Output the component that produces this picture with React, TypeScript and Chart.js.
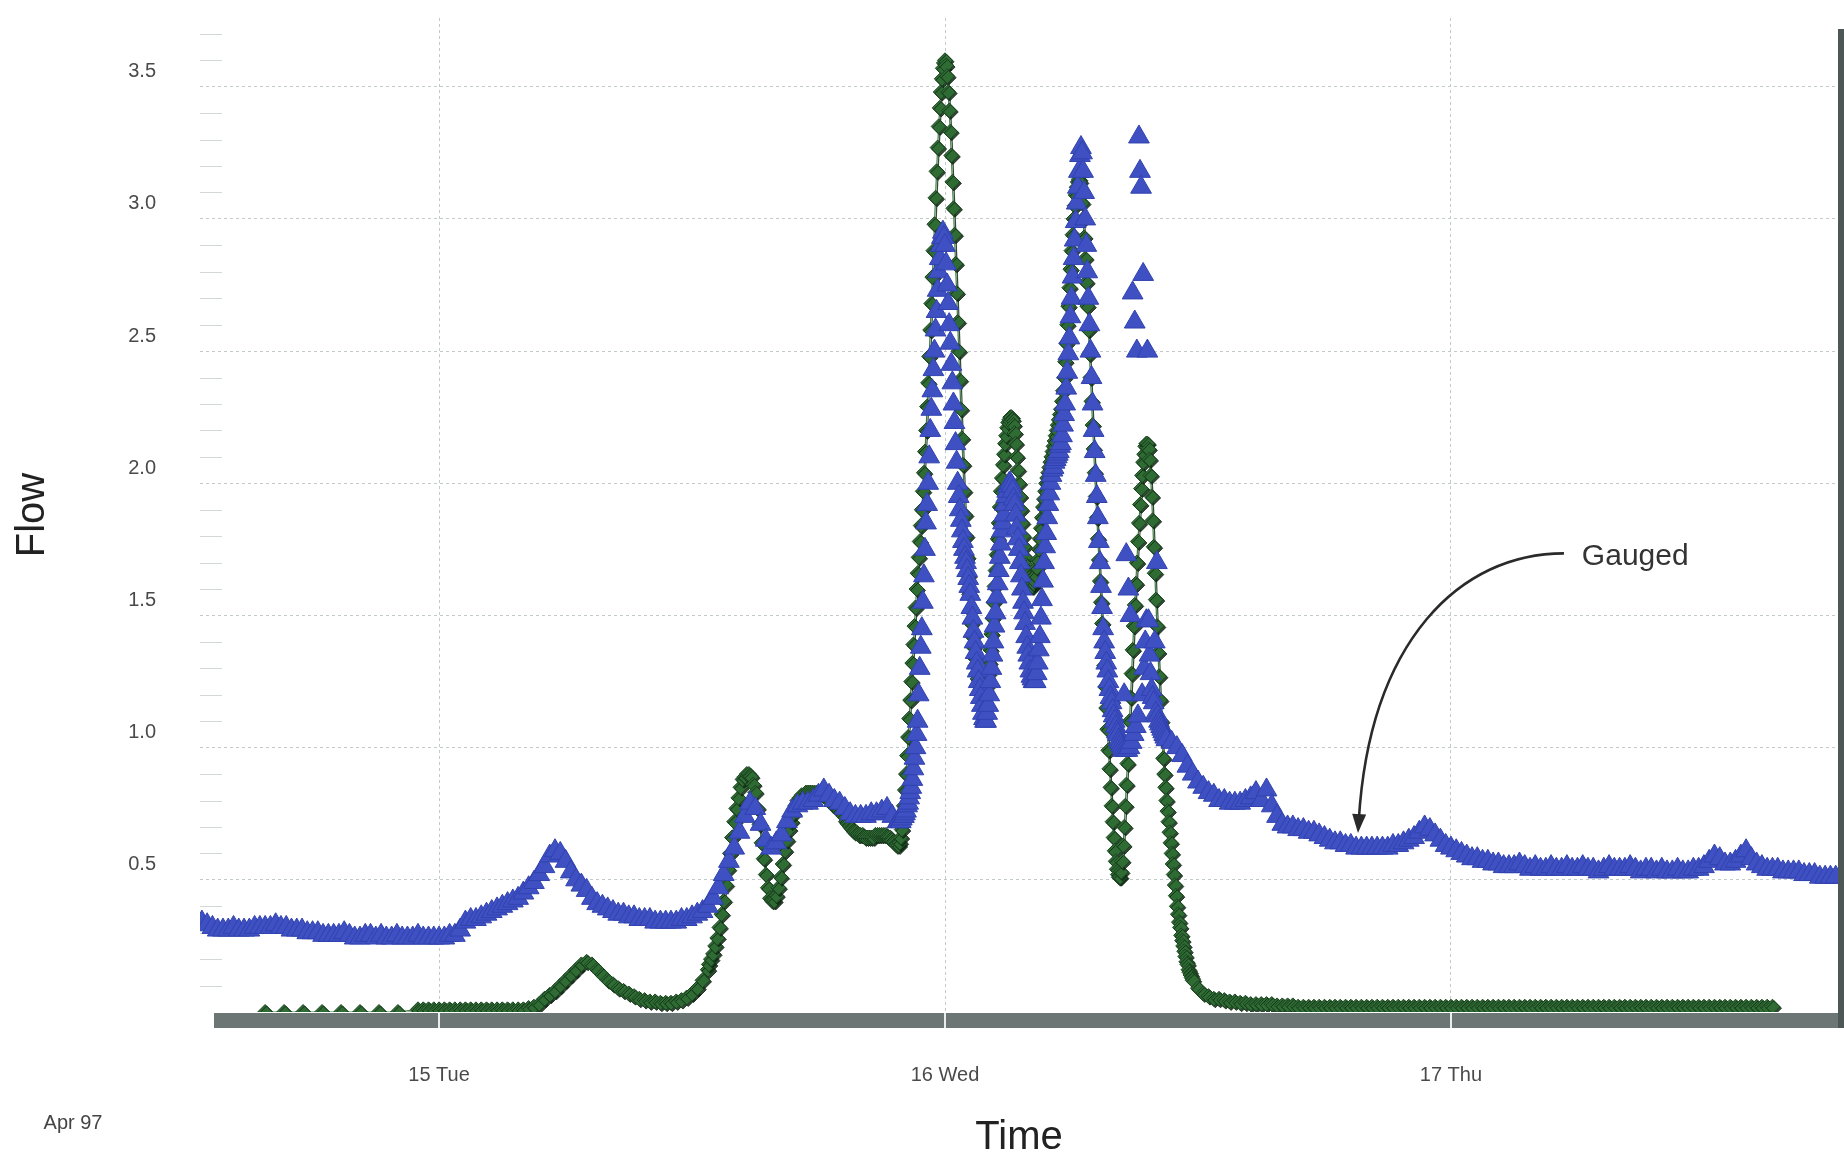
import React, { useEffect, useRef } from 'react';
import { Chart, registerables } from 'chart.js';

Chart.register(...registerables);

const FONT = "'Liberation Sans', Arial, Helvetica, sans-serif";

// ---- axes (x = hours after 00:00, 14 April 1997) ----
const X_MIN_HOURS = 12.66;
const X_MAX_HOURS = 90.36;
const dayTickHours = [24, 48, 72];
const dayTickLabels = ['15 Tue', '16 Wed', '17 Thu'];
const monthLabel = 'Apr 97';
const xTitle = 'Time';
const yTitle = 'Flow';

const Y_MIN = 0;
const Y_MAX = 3.76;
const yMajorTicks = [0.5, 1.0, 1.5, 2.0, 2.5, 3.0, 3.5];
const yMinorTicks = [0.1, 0.2, 0.3, 0.4, 0.6, 0.7, 0.8, 0.9, 1.1, 1.2, 1.3, 1.4, 1.6, 1.7, 1.8, 1.9,
  2.1, 2.2, 2.3, 2.4, 2.6, 2.7, 2.8, 2.9, 3.1, 3.2, 3.3, 3.4, 3.6, 3.7];

// ---- Gauged flow (blue triangles) ----
const GAUGED_A_START = 12.75; // 15-minute readings
const GAUGED_A_STEP = 0.25;
const gaugedA = [
  0.34, 0.33, 0.32, 0.31, 0.31, 0.31, 0.32, 0.31, 0.31, 0.31,
  0.32, 0.32, 0.32, 0.32, 0.33, 0.32, 0.32, 0.31, 0.31, 0.31,
  0.30, 0.30, 0.30, 0.29, 0.29, 0.29, 0.29, 0.30, 0.29, 0.28,
  0.28, 0.29, 0.29, 0.28, 0.29, 0.28, 0.28, 0.29, 0.28, 0.28,
  0.28, 0.29, 0.28, 0.28, 0.28, 0.28, 0.28, 0.29, 0.29, 0.31,
  0.34, 0.35, 0.35, 0.36, 0.37, 0.38, 0.39, 0.40, 0.41, 0.42,
  0.43, 0.45, 0.47, 0.49, 0.52, 0.55, 0.59, 0.61, 0.60, 0.57,
  0.53, 0.50, 0.48, 0.46, 0.43, 0.41, 0.40, 0.39, 0.38, 0.37,
  0.37, 0.36, 0.36, 0.35, 0.35, 0.35, 0.34, 0.34, 0.34, 0.34,
  0.34, 0.35, 0.35, 0.36, 0.37, 0.38, 0.40, 0.43, 0.47, 0.52,
  0.57, 0.62, 0.68, 0.74, 0.79, 0.77, 0.71, 0.65, 0.62, 0.64,
  0.67, 0.72, 0.76, 0.78, 0.79, 0.79, 0.80, 0.82, 0.84, 0.82,
  0.80, 0.79, 0.77, 0.75, 0.74, 0.74, 0.74, 0.75, 0.75, 0.76,
  0.77, 0.74, 0.72,
];

const GAUGED_B_START = 45.8; // 3-minute readings through the storm
const GAUGED_B_STEP = 0.05;
const gaugedB = [
  0.72, 0.73, 0.72, 0.73, 0.74, 0.74, 0.75, 0.76, 0.78, 0.79, 0.81, 0.83, 0.85, 0.88, 0.92, 0.96, 1.00, 1.05, 1.10, 1.20,
  1.30, 1.38, 1.45, 1.55, 1.65, 1.75, 1.85, 1.92, 2.00, 2.10, 2.20, 2.28, 2.35, 2.43, 2.50, 2.58, 2.65, 2.73, 2.80, 2.85,
  2.90, 2.93, 2.95, 2.93, 2.90, 2.83, 2.75, 2.68, 2.60, 2.53, 2.45, 2.38, 2.30, 2.23, 2.15, 2.08, 2.00, 1.95, 1.90, 1.86,
  1.82, 1.78, 1.75, 1.72, 1.70, 1.67, 1.64, 1.61, 1.58, 1.53, 1.49, 1.44, 1.40, 1.36, 1.32, 1.29, 1.25, 1.22, 1.19, 1.16,
  1.13, 1.11, 1.10, 1.10, 1.13, 1.16, 1.20, 1.25, 1.30, 1.35, 1.40, 1.46, 1.51, 1.57, 1.62, 1.67, 1.72, 1.77, 1.82, 1.85,
  1.88, 1.92, 1.95, 1.97, 1.99, 2.00, 2.00, 1.99, 1.97, 1.94, 1.92, 1.88, 1.83, 1.79, 1.75, 1.70, 1.65, 1.60, 1.55, 1.51,
  1.47, 1.42, 1.38, 1.35, 1.32, 1.29, 1.27, 1.26, 1.25, 1.25, 1.25, 1.28, 1.32, 1.37, 1.42, 1.49, 1.56, 1.63, 1.70, 1.76,
  1.81, 1.87, 1.92, 1.96, 2.00, 2.03, 2.05, 2.06, 2.08, 2.09, 2.10, 2.11, 2.12, 2.14, 2.15, 2.18, 2.22, 2.26, 2.30, 2.36,
  2.42, 2.49, 2.55, 2.63, 2.70, 2.78, 2.85, 2.92, 2.99, 3.06, 3.12, 3.18, 3.24, 3.27, 3.25, 3.18, 3.10, 3.00, 2.90, 2.80,
  2.70, 2.60, 2.50, 2.40, 2.30, 2.20, 2.12, 2.03, 1.95, 1.87, 1.78, 1.70, 1.61, 1.53, 1.45, 1.40, 1.36, 1.32, 1.29, 1.25,
  1.22, 1.19, 1.17, 1.14, 1.12, 1.10, 1.08, 1.06, 1.05, 1.03, 1.02, 1.01, 1.00, 0.99, 1.20, 0.99, 1.73, 0.99, 1.60, 1.00,
  1.50, 1.02, 2.72, 1.05, 2.61, 1.08, 2.50, 1.12, 3.31, 3.18, 3.12, 1.20, 2.79, 1.30, 1.40, 1.48, 2.50, 1.48, 1.35, 1.28,
  1.22, 1.19, 1.17, 1.40, 1.13, 1.70, 1.12, 1.10, 1.09, 1.08, 1.07, 1.06, 1.05, 1.04, 1.03,
];

const GAUGED_C_START = 58.75; // 15-minute readings
const GAUGED_C_STEP = 0.25;
const gaugedC = [
  1.02, 1.00, 0.97, 0.93, 0.90, 0.87, 0.85, 0.83, 0.82, 0.80,
  0.80, 0.79, 0.79, 0.79, 0.80, 0.81, 0.83, 0.80, 0.84, 0.78,
  0.74, 0.71, 0.70, 0.70, 0.69, 0.69, 0.68, 0.68, 0.67, 0.66,
  0.65, 0.64, 0.64, 0.63, 0.63, 0.62, 0.62, 0.62, 0.62, 0.62,
  0.62, 0.62, 0.63, 0.63, 0.64, 0.65, 0.66, 0.68, 0.70, 0.69,
  0.67, 0.65, 0.63, 0.62, 0.61, 0.60, 0.59, 0.58, 0.58, 0.57,
  0.57, 0.56, 0.56, 0.55, 0.55, 0.55, 0.56, 0.55, 0.54, 0.55,
  0.54, 0.54, 0.55, 0.54, 0.54, 0.55, 0.54, 0.54, 0.55, 0.54,
  0.54, 0.53, 0.54, 0.55, 0.54, 0.54, 0.54, 0.55, 0.54, 0.53,
  0.54, 0.54, 0.53, 0.54, 0.53, 0.53, 0.54, 0.53, 0.53, 0.54,
  0.54, 0.55, 0.57, 0.59, 0.58, 0.56, 0.56, 0.57, 0.59, 0.61,
  0.58, 0.56, 0.55, 0.54, 0.54, 0.54, 0.53, 0.53, 0.53, 0.53,
  0.52, 0.52, 0.52, 0.51, 0.51, 0.51, 0.51,
];

// ---- Modelled flow (green diamonds joined by a line) ----
const modelSparseHours = [15.75, 16.65, 17.55, 18.45, 19.35, 20.25, 21.15, 22.05];
const modelSparse = [0, 0, 0, 0, 0, 0, 0, 0];

const MODEL_A_START = 23.0; // 15-minute
const MODEL_A_STEP = 0.25;
const modelA = [
  0.01, 0.01, 0.01, 0.01, 0.01, 0.01, 0.01, 0.01, 0.01, 0.01,
  0.01, 0.01, 0.01, 0.01, 0.01, 0.01, 0.01, 0.01, 0.01, 0.01,
  0.01, 0.015, 0.02, 0.03, 0.05, 0.065, 0.08, 0.10, 0.12, 0.14,
  0.16, 0.18, 0.19, 0.18, 0.16, 0.14, 0.12, 0.105, 0.09, 0.08,
  0.07, 0.06, 0.05, 0.045, 0.04, 0.04, 0.035, 0.035, 0.035, 0.04,
  0.045, 0.055, 0.07, 0.09, 0.12, 0.16,
];

const MODEL_B_START = 36.8; // 6-minute
const MODEL_B_STEP = 0.1;
const modelB = [
  0.18, 0.20, 0.22, 0.25, 0.28, 0.32, 0.37, 0.42, 0.48, 0.54,
  0.60, 0.66, 0.72, 0.77, 0.81, 0.85, 0.88, 0.89, 0.90, 0.90,
  0.89, 0.86, 0.83, 0.77, 0.71, 0.64, 0.58, 0.52, 0.47, 0.43,
  0.42, 0.42, 0.44, 0.47, 0.51, 0.56, 0.61, 0.65, 0.69, 0.72,
  0.75, 0.78, 0.80, 0.81, 0.82, 0.82, 0.83, 0.83, 0.83, 0.83,
  0.83, 0.83, 0.83, 0.83, 0.82, 0.82, 0.81, 0.80, 0.79, 0.78,
  0.78, 0.77, 0.76, 0.75, 0.74, 0.72, 0.71, 0.70, 0.69, 0.68,
  0.68, 0.67, 0.67, 0.67, 0.66, 0.66, 0.66, 0.66, 0.66, 0.67,
  0.67, 0.67, 0.67, 0.67, 0.67, 0.66, 0.66, 0.65, 0.64, 0.63,
];

const MODEL_C_START = 45.8; // 3-minute through the storm
const MODEL_C_STEP = 0.05;
const modelC = [
  0.63, 0.64, 0.66, 0.69, 0.73, 0.78, 0.84, 0.90, 0.97, 1.04, 1.11, 1.18, 1.25, 1.32, 1.39, 1.46, 1.53, 1.60, 1.66, 1.72,
  1.78, 1.84, 1.90, 1.97, 2.04, 2.12, 2.20, 2.29, 2.38, 2.48, 2.58, 2.68, 2.78, 2.88, 2.98, 3.08, 3.18, 3.27, 3.35, 3.42,
  3.48, 3.53, 3.57, 3.59, 3.60, 3.58, 3.54, 3.48, 3.41, 3.33, 3.24, 3.14, 3.04, 2.94, 2.83, 2.72, 2.61, 2.50, 2.39, 2.28,
  2.17, 2.07, 1.97, 1.88, 1.80, 1.72, 1.65, 1.58, 1.52, 1.47, 1.42, 1.38, 1.34, 1.31, 1.28, 1.26, 1.24, 1.23, 1.22, 1.22,
  1.22, 1.22, 1.22, 1.23, 1.25, 1.28, 1.32, 1.37, 1.43, 1.49, 1.55, 1.61, 1.67, 1.73, 1.79, 1.85, 1.91, 1.97, 2.02, 2.07,
  2.11, 2.15, 2.18, 2.21, 2.23, 2.24, 2.25, 2.25, 2.24, 2.22, 2.19, 2.15, 2.10, 2.05, 2.00, 1.95, 1.90, 1.85, 1.80, 1.76,
  1.72, 1.69, 1.67, 1.65, 1.64, 1.62, 1.61, 1.61, 1.62, 1.63, 1.65, 1.68, 1.71, 1.75, 1.79, 1.83, 1.87, 1.91, 1.94, 1.97,
  2.00, 2.02, 2.04, 2.06, 2.08, 2.10, 2.12, 2.14, 2.16, 2.18, 2.20, 2.22, 2.24, 2.26, 2.28, 2.31, 2.35, 2.40, 2.46, 2.53,
  2.60, 2.67, 2.74, 2.81, 2.88, 2.94, 3.00, 3.05, 3.09, 3.12, 3.14, 3.15, 3.14, 3.11, 3.06, 3.00, 2.93, 2.85, 2.76, 2.67,
  2.58, 2.49, 2.40, 2.31, 2.22, 2.13, 2.04, 1.95, 1.87, 1.79, 1.71, 1.63, 1.55, 1.47, 1.39, 1.31, 1.23, 1.15, 1.07, 0.99,
  0.92, 0.85, 0.78, 0.72, 0.66, 0.61, 0.57, 0.54, 0.52, 0.51, 0.51, 0.53, 0.57, 0.63, 0.70, 0.78, 0.86, 0.94, 1.02, 1.10,
  1.19, 1.28, 1.37, 1.46, 1.54, 1.62, 1.70, 1.78, 1.85, 1.92, 1.98, 2.03, 2.08, 2.11, 2.14, 2.15, 2.15, 2.13, 2.09, 2.03,
  1.95, 1.86, 1.76, 1.66, 1.56, 1.46, 1.36, 1.27, 1.18, 1.10, 1.03, 0.96, 0.90, 0.85, 0.80, 0.76, 0.72, 0.68, 0.64, 0.60,
  0.56, 0.52, 0.48, 0.44, 0.40, 0.37, 0.34, 0.32, 0.29, 0.27, 0.25, 0.23, 0.21, 0.19, 0.18, 0.16, 0.15, 0.14, 0.13,
];

const MODEL_D_START = 59.75; // 15-minute
const MODEL_D_STEP = 0.25;
const modelD = [
  0.12, 0.09, 0.07, 0.06, 0.05, 0.05, 0.045, 0.04, 0.04, 0.035,
  0.035, 0.03, 0.03, 0.03, 0.03, 0.03, 0.025, 0.025, 0.025, 0.025,
  0.02,
  0.02, 0.02, 0.02, 0.02, 0.02, 0.02, 0.02, 0.02, 0.02, 0.02,
  0.02, 0.02, 0.02, 0.02, 0.02, 0.02, 0.02, 0.02, 0.02, 0.02,
  0.02, 0.02, 0.02, 0.02, 0.02, 0.02, 0.02, 0.02, 0.02, 0.02,
  0.02, 0.02, 0.02, 0.02, 0.02, 0.02, 0.02, 0.02, 0.02, 0.02,
  0.02, 0.02, 0.02, 0.02, 0.02, 0.02, 0.02, 0.02, 0.02, 0.02,
  0.02, 0.02, 0.02, 0.02, 0.02, 0.02, 0.02, 0.02, 0.02, 0.02,
  0.02, 0.02, 0.02, 0.02, 0.02, 0.02, 0.02, 0.02, 0.02, 0.02,
  0.02, 0.02, 0.02, 0.02, 0.02, 0.02, 0.02, 0.02, 0.02, 0.02,
  0.02, 0.02, 0.02, 0.02, 0.02, 0.02, 0.02, 0.02, 0.02, 0.02,
];

// ---- annotation (in data coordinates: hours, flow) ----
const annotationText = 'Gauged';
const annotationTextAt = { x: 78.21, y: 1.724 };
const annotationCurve = [
  { x: 77.36, y: 1.735 },
  { x: 72.43, y: 1.735 },
  { x: 68.16, y: 1.406 },
  { x: 67.59, y: 0.677 },
];

// ---- colours ----
const BLUE = '#3e50c2';
const BLUE_EDGE = '#3142b0';
const GREEN = '#2e6c34';
const GREEN_EDGE = '#1d4421';
const GREEN_LINE = '#3c7c40';
const GRID = '#c3cacb';

function regular(start: number, step: number, values: number[]) {
  return values.map((v, i) => ({ x: start + i * step, y: v }));
}

const gaugedPoints = [
  ...regular(GAUGED_A_START, GAUGED_A_STEP, gaugedA),
  ...regular(GAUGED_B_START, GAUGED_B_STEP, gaugedB),
  ...regular(GAUGED_C_START, GAUGED_C_STEP, gaugedC),
];

const modelPoints = [
  ...modelSparseHours.map((h, i) => ({ x: h, y: modelSparse[i] })),
  ...regular(MODEL_A_START, MODEL_A_STEP, modelA),
  ...regular(MODEL_B_START, MODEL_B_STEP, modelB),
  ...regular(MODEL_C_START, MODEL_C_STEP, modelC),
  ...regular(MODEL_D_START, MODEL_D_STEP, modelD),
];

const shadowPlugin = {
  id: 'diamondShadow',
  beforeDatasetDraw(chart: any, args: any) {
    if (args.index === 1) {
      const ctx = chart.ctx;
      ctx.save();
      ctx.shadowColor = 'rgba(16,40,20,0.85)';
      ctx.shadowOffsetX = 1.5;
      ctx.shadowOffsetY = 1.5;
      ctx.shadowBlur = 0.5;
    }
  },
  afterDatasetDraw(chart: any, args: any) {
    if (args.index === 1) chart.ctx.restore();
  },
};

const decorPlugin = {
  id: 'decor',
  beforeDatasetsDraw(chart: any) {
    const { ctx, chartArea: a, scales } = chart;
    const x = scales.x;
    const y = scales.y;
    ctx.save();
    // minor y ticks inside the plot
    ctx.strokeStyle = '#d2d7d7';
    ctx.lineWidth = 1;
    yMinorTicks.forEach((v) => {
      const py = Math.round(y.getPixelForValue(v)) + 0.5;
      ctx.beginPath();
      ctx.moveTo(a.left, py);
      ctx.lineTo(a.left + 22, py);
      ctx.stroke();
    });
    // thick grey time bar below the zero line
    ctx.fillStyle = '#6c7675';
    ctx.fillRect(a.left + 14, a.bottom + 1, chart.width - a.left - 14, 15);
    ctx.strokeStyle = '#e9eded';
    ctx.lineWidth = 2;
    dayTickHours.forEach((h) => {
      const px = Math.round(x.getPixelForValue(h));
      ctx.beginPath();
      ctx.moveTo(px, a.bottom + 1);
      ctx.lineTo(px, a.bottom + 16);
      ctx.stroke();
    });
    // dark right frame edge
    ctx.fillStyle = '#4c5756';
    ctx.fillRect(a.right, a.top + 11, chart.width - a.right, a.bottom + 16 - a.top - 11);
    ctx.restore();
  },
  afterDatasetsDraw(chart: any) {
    const { ctx, scales } = chart;
    const x = scales.x;
    const y = scales.y;
    const p = annotationCurve.map((q) => ({ x: x.getPixelForValue(q.x), y: y.getPixelForValue(q.y) }));
    const [p0, p1, p2, p3] = p;
    const ang = Math.atan2(p3.y - p2.y, p3.x - p2.x);
    const headLen = 19;
    const headW = 7;
    ctx.save();
    ctx.strokeStyle = '#2a2a2a';
    ctx.fillStyle = '#2a2a2a';
    ctx.lineWidth = 2.6;
    ctx.beginPath();
    ctx.moveTo(p0.x, p0.y);
    ctx.bezierCurveTo(p1.x, p1.y, p2.x, p2.y, p3.x - Math.cos(ang) * headLen * 0.7, p3.y - Math.sin(ang) * headLen * 0.7);
    ctx.stroke();
    ctx.beginPath();
    ctx.moveTo(p3.x, p3.y);
    ctx.lineTo(p3.x - Math.cos(ang) * headLen + Math.sin(ang) * headW, p3.y - Math.sin(ang) * headLen - Math.cos(ang) * headW);
    ctx.lineTo(p3.x - Math.cos(ang) * headLen - Math.sin(ang) * headW, p3.y - Math.sin(ang) * headLen + Math.cos(ang) * headW);
    ctx.closePath();
    ctx.fill();
    ctx.font = `30px ${FONT}`;
    ctx.fillStyle = '#333333';
    ctx.textAlign = 'left';
    ctx.textBaseline = 'middle';
    ctx.fillText(annotationText, x.getPixelForValue(annotationTextAt.x), y.getPixelForValue(annotationTextAt.y));
    ctx.restore();
  },
  afterDraw(chart: any) {
    const { ctx, chartArea: a } = chart;
    ctx.save();
    ctx.font = `20px ${FONT}`;
    ctx.fillStyle = '#444444';
    ctx.textAlign = 'center';
    ctx.textBaseline = 'middle';
    ctx.fillText(monthLabel, a.left - 127, a.bottom + 111);
    ctx.restore();
  },
};

export default function App() {
  const ref = useRef<HTMLCanvasElement | null>(null);

  useEffect(() => {
    if (!ref.current) return;
    const chart = new Chart(ref.current, {
      type: 'line',
      data: {
        datasets: [
          {
            label: 'Gauged',
            data: gaugedPoints,
            showLine: false,
            pointStyle: 'triangle',
            pointRadius: 12,
            pointBackgroundColor: BLUE,
            pointBorderColor: BLUE_EDGE,
            pointBorderWidth: 1,
          },
          {
            label: 'Modelled',
            data: modelPoints,
            showLine: true,
            borderColor: GREEN_LINE,
            borderWidth: 1.2,
            tension: 0,
            pointStyle: 'rectRot',
            pointRadius: 7.5,
            pointBackgroundColor: GREEN,
            pointBorderColor: GREEN_EDGE,
            pointBorderWidth: 1,
          },
        ] as any,
      },
      options: {
        animation: false,
        responsive: false,
        devicePixelRatio: 1,
        events: [],
        layout: { autoPadding: false, padding: { left: 0, right: 6, top: 18, bottom: 0 } },
        plugins: { legend: { display: false }, tooltip: { enabled: false }, title: { display: false } },
        scales: {
          x: {
            type: 'linear',
            min: X_MIN_HOURS,
            max: X_MAX_HOURS,
            afterBuildTicks: (scale: any) => {
              scale.ticks = dayTickHours.map((v) => ({ value: v }));
            },
            afterFit: (scale: any) => {
              scale.height = 147;
              scale.paddingLeft = 0;
              scale.paddingRight = 0;
            },
            ticks: {
              autoSkip: false,
              maxRotation: 0,
              padding: 51,
              color: '#4a4a4a',
              font: { family: FONT, size: 20 },
              callback: (v: any) => {
                const i = dayTickHours.indexOf(Number(v));
                return i >= 0 ? dayTickLabels[i] : '';
              },
            },
            grid: { color: GRID, lineWidth: 1, drawTicks: false },
            border: { display: false, dash: [3, 3] },
            title: {
              display: true,
              text: xTitle,
              color: '#222222',
              font: { family: FONT, size: 40, lineHeight: 1 },
              padding: { top: 0, bottom: 1 },
            },
          },
          y: {
            type: 'linear',
            min: Y_MIN,
            max: Y_MAX,
            afterBuildTicks: (scale: any) => {
              scale.ticks = yMajorTicks.map((v) => ({ value: v }));
            },
            afterFit: (scale: any) => {
              scale.width = 200;
              scale.paddingTop = 0;
              scale.paddingBottom = 0;
            },
            ticks: {
              autoSkip: false,
              padding: 44,
              labelOffset: -15,
              color: '#4a4a4a',
              font: { family: FONT, size: 20 },
              callback: (v: any) => Number(v).toFixed(1),
            },
            grid: { color: GRID, lineWidth: 1, drawTicks: false },
            border: { display: false, dash: [3, 3] },
            title: {
              display: true,
              text: yTitle,
              color: '#222222',
              font: { family: FONT, size: 40 },
              padding: { top: 9, bottom: 0 },
            },
          },
        },
      } as any,
      plugins: [shadowPlugin, decorPlugin],
    });
    return () => chart.destroy();
  }, []);

  return (
    <div style={{ position: 'fixed', left: 0, top: 0, width: 1844, height: 1159, background: '#ffffff' }}>
      <canvas ref={ref} width={1844} height={1159} style={{ display: 'block', width: 1844, height: 1159 }} />
    </div>
  );
}
